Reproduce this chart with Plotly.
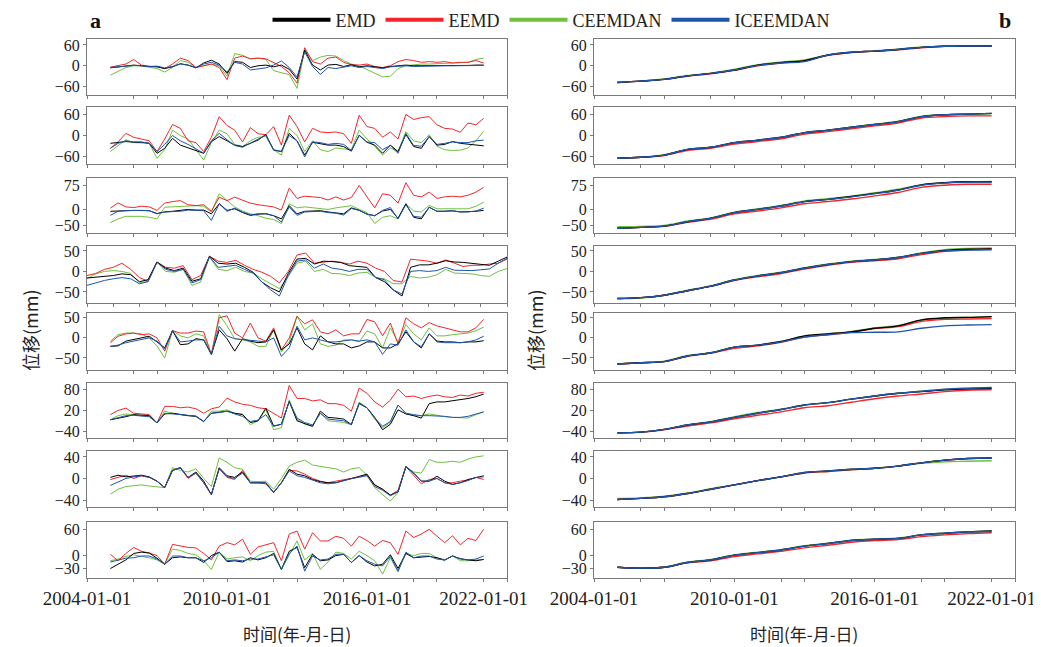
import plotly.graph_objects as go

# ---------------- data ----------------
METHODS = ["EMD", "EEMD", "CEEMDAN", "ICEEMDAN"]

DATES = [
    "2005-01-01", "2005-05-01", "2005-09-01", "2006-01-01", "2006-05-01", "2006-09-01",
    "2007-01-01", "2007-05-01", "2007-09-01", "2008-01-01", "2008-05-01", "2008-09-01",
    "2009-01-01", "2009-05-01", "2009-09-01", "2010-01-01", "2010-05-01", "2010-09-01",
    "2011-01-01", "2011-05-01", "2011-09-01", "2012-01-01", "2012-05-01", "2012-09-01",
    "2013-01-01", "2013-05-01", "2013-09-01", "2014-01-01", "2014-05-01", "2014-09-01",
    "2015-01-01", "2015-05-01", "2015-09-01", "2016-01-01", "2016-05-01", "2016-09-01",
    "2017-01-01", "2017-05-01", "2017-09-01", "2018-01-01", "2018-05-01", "2018-09-01",
    "2019-01-01", "2019-05-01", "2019-09-01", "2020-01-01", "2020-05-01", "2020-09-01",
    "2021-01-01",
]

YEARS = ["2005-01-01", "2006-01-01", "2007-01-01", "2008-01-01", "2009-01-01", "2010-01-01",
         "2011-01-01", "2012-01-01", "2013-01-01", "2014-01-01", "2015-01-01", "2016-01-01",
         "2017-01-01", "2018-01-01", "2019-01-01", "2020-01-01", "2021-01-01"]

# ---- column a (decomposed residual series), 8 stations ----
A1_EMD = [-6,-3,0,2,0,-2,-3,-8,-3,6,2,-6,8,16,5,-22,12,10,-5,0,2,-3,2,-10,-38,45,2,-12,2,4,-2,3,-3,0,-2,-6,-2,0,2,0,0,-1,0,0,0,0,1,2,2]
A1_EEMD = [-4,0,5,18,2,-3,-2,-8,5,22,15,-5,0,5,-5,-40,22,28,20,22,20,10,-2,-20,-50,52,12,5,22,25,10,3,2,5,-2,-5,0,12,18,15,10,12,10,12,8,10,10,15,8]
A1_CEEMDAN = [-27,-15,-5,0,0,-4,-8,-18,-5,15,10,-5,0,5,0,-30,35,30,20,22,18,-14,-20,-25,-65,45,15,25,30,28,15,5,0,-10,-22,-32,-30,-8,0,3,5,5,6,6,8,8,10,18,22]
A1_ICEEMDAN = [-5,-3,-1,1,0,-2,-1,-6,-2,5,2,-5,5,10,2,-18,10,5,-12,-8,-6,2,14,-5,-32,40,-2,-25,-5,-8,-3,0,-5,-2,-5,-8,-3,-2,0,-2,-1,-1,-1,0,0,0,0,1,1]

A2_EMD = [-22,-19,-17,-19,-19,-22,-50,-36,-8,-27,-34,-41,-50,-17,-3,-15,-27,-31,-22,-13,3,-41,-45,6,-15,-55,-19,-22,-27,-27,-31,-44,1,-19,-27,-50,-27,-45,3,-31,-36,-3,-27,-25,-17,-22,-25,-27,-29]
A2_EEMD = [-36,-18,6,-5,-10,-15,-45,-10,31,20,-15,-20,-45,-5,53,28,15,-18,22,5,2,25,-27,57,25,-18,20,10,8,10,5,-22,57,25,20,-5,10,-10,59,45,50,53,30,20,18,9,35,30,48]
A2_CEEMDAN = [-45,-28,-12,-20,-20,-22,-64,-40,15,0,-10,-40,-69,-20,15,5,-25,-31,-15,-5,-3,-40,-55,20,0,-45,-15,-40,-45,-35,-38,-40,15,-10,-30,-55,-35,-45,11,-15,-20,2,-30,-40,-42,-41,-35,-15,12]
A2_ICEEMDAN = [-36,-22,-15,-18,-18,-22,-45,-25,0,-15,-25,-38,-50,-15,6,-12,-28,-33,-22,-12,1,-40,-45,0,-15,-60,-18,-20,-25,-22,-25,-42,0,-18,-20,-40,-28,-50,6,-28,-30,-3,-25,-22,-18,-20,-20,-15,-13]

A3_EMD = [-6,-6,-4,-3,-3,-4,-13,-8,-6,-4,0,-2,-2,-14,18,-3,2,-10,-19,-15,-14,-20,-30,12,-14,-6,-6,-4,-8,-10,-14,5,-3,-15,-20,-5,0,-28,18,-25,-30,7,-6,-6,-4,-8,-8,-6,-3]
A3_EEMD = [4,21,8,6,10,8,-3,20,25,28,15,12,15,-6,39,28,39,30,20,15,12,8,-2,68,35,42,40,38,30,40,30,38,76,42,5,50,45,20,85,45,40,55,35,40,42,40,45,55,70]
A3_CEEMDAN = [-42,-30,-22,-22,-22,-25,-30,7,8,10,12,12,10,-8,50,28,8,-5,-14,-20,-28,-32,-45,18,5,8,5,2,0,5,8,12,0,-10,-45,-25,-20,-30,18,-5,-8,13,2,2,0,0,2,10,23]
A3_ICEEMDAN = [-19,-6,-4,-3,-3,-4,-14,-8,-8,-6,-2,-4,-4,-35,18,-6,4,-8,-17,-14,-13,-20,-40,8,-19,-8,-8,-6,-10,-12,-18,3,-3,-15,-20,-3,6,-30,15,-22,-25,7,-6,-6,-5,-8,-8,-5,4]

A4_EMD = [-16,-14,-12,-10,-6,-8,-25,-20,23,8,2,8,-24,-18,37,20,18,20,10,-2,-26,-40,-50,-5,30,32,18,25,24,22,14,12,10,-15,-25,-45,-60,10,16,16,20,26,23,22,20,18,15,25,35]
A4_EEMD = [-10,-5,5,10,20,5,-15,-24,23,10,8,14,-20,-10,37,25,22,27,15,5,-2,-12,-28,0,40,45,20,22,25,22,18,25,20,8,0,-22,-26,30,27,25,20,28,20,12,15,15,18,20,30]
A4_CEEMDAN = [-18,-6,0,2,0,-5,-28,-24,23,0,-2,5,-34,-26,35,5,2,10,0,-4,-18,-30,-42,-12,20,25,0,5,-5,-6,-10,-4,-2,-15,-18,-30,-30,-12,-16,-14,-8,5,-4,-5,-6,-10,-12,0,7]
A4_ICEEMDAN = [-34,-28,-22,-18,-15,-18,-30,-25,22,5,0,5,-28,-20,36,10,12,15,5,-4,-26,-45,-60,-10,25,28,8,18,8,5,0,5,5,-15,-20,-45,-55,0,2,0,2,10,3,3,2,4,6,20,32]

A5_EMD = [-21,-20,-8,-4,0,4,-10,-25,18,-17,-15,-2,-5,-41,20,-2,-33,-2,-8,-12,-10,20,-30,-15,25,-15,-30,5,-10,-15,-15,-25,-20,-10,-10,-25,-25,-15,15,-10,-25,10,-8,-10,-10,-12,-10,-10,-7]
A5_EEMD = [-12,4,10,12,8,10,0,-33,18,12,12,17,15,-41,50,55,12,0,37,0,-8,25,-30,0,54,35,45,15,10,20,5,10,10,46,40,5,37,-15,50,35,25,38,30,25,20,15,15,25,46]
A5_CEEMDAN = [-8,8,12,12,10,0,-20,-50,18,5,0,10,5,-41,58,30,-2,-5,-10,-21,-21,20,-35,-10,54,20,35,-15,-21,-18,-5,-5,-10,17,10,-25,25,-10,33,10,-5,25,5,5,8,10,12,18,27]
A5_ICEEMDAN = [-21,-18,-12,-8,-5,0,-8,-28,18,-10,-8,-5,-5,-41,29,5,-2,-4,-5,-8,-10,0,-46,-25,29,-5,0,-5,-10,-10,-8,-5,-8,-5,-10,-41,-15,-18,20,-10,-22,10,-10,-12,-12,-12,-10,-5,4]

A6_EMD = [-7,-3,2,8,6,5,-16,10,12,8,5,3,-12,12,15,18,12,8,-15,-10,27,-25,-20,46,-10,-18,-26,18,0,-2,-5,-21,40,28,0,-36,-20,22,10,5,-2,40,45,45,48,52,55,60,68]
A6_EEMD = [8,20,27,12,10,8,-16,32,32,28,30,25,12,25,30,56,45,38,35,28,25,12,-2,93,55,55,48,51,40,40,35,18,85,70,45,30,50,82,60,62,55,61,65,60,58,65,62,70,73]
A6_CEEMDAN = [-7,5,10,8,5,2,-16,18,12,8,5,3,-12,18,18,22,12,10,-21,-10,22,-36,-30,51,-5,-20,-26,12,-10,-12,-15,-21,44,28,-5,-30,-15,36,12,5,5,10,5,2,0,-2,-2,8,16]
A6_ICEEMDAN = [-7,0,5,6,5,2,-16,12,10,8,6,4,-12,12,14,18,10,3,-12,-8,8,-26,-20,46,-2,-15,-22,12,-5,-8,-10,-21,42,28,-2,-26,-12,36,12,8,5,5,5,3,0,0,3,10,16]

A7_EMD = [2,6,3,4,6,3,-5,-17,15,20,2,12,-5,-30,20,5,2,12,-8,-8,-8,-26,-8,17,8,5,-2,-6,-8,-8,-4,0,5,8,-12,-20,-31,-25,22,10,-5,-5,4,-5,-11,-8,-2,2,5]
A7_EEMD = [-2,2,6,0,5,2,-5,-17,15,20,0,10,-8,-30,18,2,-2,15,-8,-8,-10,-26,-8,15,14,8,0,-5,-8,-5,-2,0,2,6,-12,-20,-31,-22,22,6,-10,-2,0,-8,-8,-5,-3,2,-2]
A7_CEEMDAN = [-29,-20,-15,-13,-12,-14,-15,-17,20,15,12,18,0,-15,38,30,20,17,-5,-6,-5,-20,0,23,30,34,25,22,20,18,12,18,20,6,-17,-30,-42,-26,22,12,10,35,30,30,32,30,36,40,42]
A7_ICEEMDAN = [-13,-6,0,3,5,2,-5,-17,15,20,2,10,-8,-30,18,3,0,10,-8,-8,-8,-26,-8,14,5,2,-3,-8,-10,-8,-4,0,3,5,-15,-22,-32,-25,22,10,-5,-5,0,-8,-11,-8,-4,2,3]

A8_EMD = [-30,-20,-10,5,8,6,-6,-20,-5,-3,-5,-5,-16,0,8,-14,-12,-15,-5,-10,-5,5,-32,10,19,-28,3,-12,-10,0,3,-16,0,-15,-24,-20,2,-30,5,-5,-3,-2,-5,-10,-1,-7,-10,-12,-9]
A8_EEMD = [3,-12,5,19,10,6,0,-20,26,22,19,18,5,-10,22,30,25,38,3,20,25,30,-12,50,57,15,53,34,34,45,40,22,45,35,22,35,30,3,57,42,50,61,45,30,46,25,40,35,61]
A8_CEEMDAN = [-12,-8,-2,2,-2,-5,-10,-20,15,12,5,2,-12,-32,8,-8,-5,-3,-12,0,8,10,-32,0,34,-10,5,-32,-15,8,5,-8,10,0,-12,-43,-5,-38,5,0,5,5,-5,-12,0,-12,-12,-10,-9]
A8_ICEEMDAN = [-15,-10,-6,-5,-1,-1,-8,-20,-1,-1,-5,-5,-12,-5,8,-12,-10,-12,-8,-8,-3,2,-32,5,22,-36,-1,-10,-8,3,3,-16,0,-12,-20,-24,-2,-36,8,-5,-1,-1,-8,-10,-1,-8,-10,-8,-1]

# ---- column b (trend series), 8 stations ----
B1_EMD = [-48,-44,-39,-29,-22,-12,2,9,15,31,39,42,47,53,56,57,57]
B1_EEMD = [-48,-44,-39,-30,-23,-13,0,8,14,30,38,42,46,52,56,57,57]
B1_CEEMDAN = [-47,-44,-38,-28,-21,-10,3,11,17,30,38,43,48,54,56,57,56]
B1_ICEEMDAN = [-48,-44,-39,-29,-22,-12,1,8,12,31,39,42,47,53,56,57,57]

B2_EMD = [-64,-61,-55,-39,-33,-20,-13,-5,8,15,23,31,39,53,58,60,62]
B2_EEMD = [-64,-61,-56,-42,-36,-24,-17,-9,4,11,19,27,35,49,53,55,55]
B2_CEEMDAN = [-64,-61,-54,-40,-33,-21,-14,-6,7,14,23,32,40,54,58,60,61]
B2_ICEEMDAN = [-64,-61,-55,-39,-33,-20,-13,-5,8,15,23,31,39,53,58,60,62]

B3_EMD = [-60,-57,-53,-39,-28,-10,0,11,25,32,41,51,62,78,85,88,88]
B3_EEMD = [-60,-57,-54,-41,-31,-14,-5,5,18,25,33,43,54,70,77,80,80]
B3_CEEMDAN = [-55,-54,-51,-37,-27,-9,2,13,27,34,42,53,64,79,85,88,89]
B3_ICEEMDAN = [-60,-57,-53,-39,-28,-10,0,11,25,32,40,50,61,77,84,87,87]

B4_EMD = [-66,-64,-58,-47,-36,-21,-11,-3,8,17,24,28,34,44,51,54,55]
B4_EEMD = [-66,-64,-58,-47,-36,-22,-13,-5,6,15,22,26,31,41,49,53,55]
B4_CEEMDAN = [-67,-65,-58,-46,-35,-20,-10,-2,9,18,25,29,35,45,53,56,57]
B4_ICEEMDAN = [-66,-64,-58,-47,-36,-21,-11,-3,8,17,24,28,34,44,50,52,53]

B5_EMD = [-65,-62,-59,-45,-37,-23,-18,-9,5,10,15,24,30,45,50,51,53]
B5_EEMD = [-65,-62,-59,-46,-38,-26,-20,-11,2,8,14,23,28,41,46,47,48]
B5_CEEMDAN = [-65,-62,-58,-44,-37,-23,-18,-9,4,10,16,25,31,44,49,51,52]
B5_ICEEMDAN = [-65,-62,-59,-45,-37,-23,-18,-10,2,8,13,14,15,24,30,32,33]

B6_EMD = [-45,-43,-35,-22,-13,0,12,23,36,43,53,62,70,75,80,83,84]
B6_EEMD = [-45,-43,-36,-25,-16,-4,6,16,28,34,44,54,62,68,75,79,80]
B6_CEEMDAN = [-45,-43,-35,-22,-12,2,14,24,36,43,53,62,70,76,81,84,85]
B6_ICEEMDAN = [-45,-43,-35,-22,-13,0,12,23,36,43,53,62,70,76,82,85,87]

B7_EMD = [-39,-37,-34,-28,-20,-12,-4,3,11,14,17,19,23,29,34,37,38]
B7_EEMD = [-39,-37,-34,-28,-20,-12,-4,3,10,13,16,19,23,29,34,37,38]
B7_CEEMDAN = [-37,-36,-33,-27,-19,-12,-4,3,10,13,16,19,23,28,31,32,33]
B7_ICEEMDAN = [-39,-37,-34,-28,-20,-12,-4,3,11,14,17,19,23,29,34,37,38]

B8_EMD = [-27,-29,-27,-16,-10,1,7,13,22,28,35,38,40,48,52,55,57]
B8_EEMD = [-27,-29,-27,-17,-12,-2,4,10,18,24,31,35,37,44,48,51,53]
B8_CEEMDAN = [-27,-29,-27,-15,-9,2,8,14,23,29,36,38,41,48,52,55,57]
B8_ICEEMDAN = [-27,-29,-27,-16,-10,1,7,13,22,28,35,38,40,48,52,55,56]

PANELS_A = [
    (A1_EMD, A1_EEMD, A1_CEEMDAN, A1_ICEEMDAN),
    (A2_EMD, A2_EEMD, A2_CEEMDAN, A2_ICEEMDAN),
    (A3_EMD, A3_EEMD, A3_CEEMDAN, A3_ICEEMDAN),
    (A4_EMD, A4_EEMD, A4_CEEMDAN, A4_ICEEMDAN),
    (A5_EMD, A5_EEMD, A5_CEEMDAN, A5_ICEEMDAN),
    (A6_EMD, A6_EEMD, A6_CEEMDAN, A6_ICEEMDAN),
    (A7_EMD, A7_EEMD, A7_CEEMDAN, A7_ICEEMDAN),
    (A8_EMD, A8_EEMD, A8_CEEMDAN, A8_ICEEMDAN),
]
PANELS_B = [
    (B1_EMD, B1_EEMD, B1_CEEMDAN, B1_ICEEMDAN),
    (B2_EMD, B2_EEMD, B2_CEEMDAN, B2_ICEEMDAN),
    (B3_EMD, B3_EEMD, B3_CEEMDAN, B3_ICEEMDAN),
    (B4_EMD, B4_EEMD, B4_CEEMDAN, B4_ICEEMDAN),
    (B5_EMD, B5_EEMD, B5_CEEMDAN, B5_ICEEMDAN),
    (B6_EMD, B6_EEMD, B6_CEEMDAN, B6_ICEEMDAN),
    (B7_EMD, B7_EEMD, B7_CEEMDAN, B7_ICEEMDAN),
    (B8_EMD, B8_EEMD, B8_CEEMDAN, B8_ICEEMDAN),
]

Y_RANGES = [[-84, 77], [-80, 80], [-75, 100], [-77, 62], [-80, 62], [-60, 100], [-53, 51], [-52, 78]]
Y_TICKS = [[-60, 0, 60], [-60, 0, 60], [-50, 0, 75], [-50, 0, 50], [-50, 0, 50], [-40, 20, 80], [-40, 0, 40], [-30, 0, 60]]

X_TICKVALS = ["2004-01-01", "2006-01-01", "2007-01-01", "2009-01-01", "2010-01-01", "2012-01-01",
              "2013-01-01", "2015-01-01", "2016-01-01", "2018-01-01", "2019-01-01", "2021-01-01",
              "2022-01-01"]
X_TICKTEXT = ["2004-01-01", "", "", "", "2010-01-01", "", "", "", "2016-01-01", "", "", "2022-01-01", ""]

# ---------------- style ----------------
COLORS = {"EMD": "#000000", "EEMD": "#f2262b", "CEEMDAN": "#6fc13f", "ICEEMDAN": "#1f55ac"}
DRAW_ORDER = [2, 1, 0, 3]
SERIF = "Liberation Serif, Times New Roman, serif"
CJK = "Noto Sans CJK SC, sans-serif"
WIN_W, WIN_H = 1041, 647
OFF = 8                      # default page margin in front of the figure
W, H = WIN_W - OFF, WIN_H - OFF
ROW_TOP = [39, 107, 178, 246, 313, 383, 451, 522]
ROW_BOT = [95, 164, 233, 303, 370, 438, 507, 578]
COL_X = [(87, 507), (594, 1015)]
FRAME = "#7a7a7a"


def px(p):
    return (p - OFF) / W


def py(p):
    return 1 - (p - OFF) / H


fig = go.Figure()
layout = dict(
    template="none",
    width=W, height=H, margin=dict(l=0, r=0, t=0, b=0, pad=0, autoexpand=False),
    paper_bgcolor="white", plot_bgcolor="white",
    font=dict(family=SERIF, size=17, color="#222"),
    showlegend=True,
)

for r in range(8):
    for c in range(2):
        idx = 2 * r + c + 1
        xname = "x" if idx == 1 else f"x{idx}"
        yname = "y" if idx == 1 else f"y{idx}"
        series = PANELS_A[r] if c == 0 else PANELS_B[r]
        xs = DATES if c == 0 else YEARS
        for m in DRAW_ORDER:
            name = METHODS[m]
            fig.add_trace(go.Scatter(
                x=xs, y=series[m], mode="lines", name=name,
                line=dict(color=COLORS[name], width=1.0 if c == 0 else 1.4,
                          shape="linear" if c == 0 else "spline"),
                xaxis=xname, yaxis=yname, showlegend=False,
                legendgroup=name,
            ))
        x0, x1 = COL_X[c]
        xa = dict(
            domain=[px(x0), px(x1)], anchor=yname, type="date", automargin=False,
            showline=True, mirror=True, linecolor=FRAME, linewidth=1,
            ticks="outside", ticklen=3, tickcolor=FRAME,
            showgrid=False, zeroline=False,
            tickfont=dict(family=SERIF, size=19, color="#222"),
        )
        if c == 0 and r == 3:
            xa.update(range=["2005-01-01", "2021-01-01"], tickmode="linear",
                      tick0="2005-01-01", dtick="M12", showticklabels=False)
        else:
            xa.update(range=["2004-01-01", "2022-01-01"], tickmode="array",
                      tickvals=X_TICKVALS, ticktext=X_TICKTEXT,
                      showticklabels=(r == 7))
        ya = dict(
            domain=[py(ROW_BOT[r]), py(ROW_TOP[r])], anchor=xname, automargin=False,
            range=Y_RANGES[r], tickmode="array", tickvals=Y_TICKS[r],
            showline=True, mirror=True, linecolor=FRAME, linewidth=1,
            ticks="outside", ticklen=3, tickcolor=FRAME,
            showgrid=False, zeroline=False,
            tickfont=dict(family=SERIF, size=16, color="#222"),
        )
        layout["xaxis" if idx == 1 else f"xaxis{idx}"] = xa
        layout["yaxis" if idx == 1 else f"yaxis{idx}"] = ya

# legend entries (thick lines, as in the reference legend)
for name in METHODS:
    fig.add_trace(go.Scatter(x=[None], y=[None], mode="lines", name=name,
                             line=dict(color=COLORS[name], width=4),
                             xaxis="x", yaxis="y", showlegend=True, legendgroup=name))

layout["legend"] = dict(
    orientation="h", x=px(551), xanchor="center", y=py(20), yanchor="middle",
    font=dict(family=SERIF, size=18, color="#222"), bgcolor="rgba(0,0,0,0)",
    itemwidth=58, tracegroupgap=0,
)

ann_common = dict(xref="paper", yref="paper", showarrow=False, xanchor="center", yanchor="middle")
annotations = [
    dict(text="<b>a</b>", x=px(95), y=py(21), font=dict(family=SERIF, size=22, color="#111"), **ann_common),
    dict(text="<b>b</b>", x=px(1005), y=py(21), font=dict(family=SERIF, size=22, color="#111"), **ann_common),
    dict(text="位移(mm)", x=px(30), y=py(330), textangle=-90,
         font=dict(family=CJK, size=18, color="#222"), **ann_common),
    dict(text="位移(mm)", x=px(535), y=py(330), textangle=-90,
         font=dict(family=CJK, size=18, color="#222"), **ann_common),
    dict(text="时间(年-月-日)", x=px(297), y=py(633),
         font=dict(family=CJK, size=17, color="#222"), **ann_common),
    dict(text="时间(年-月-日)", x=px(804), y=py(633),
         font=dict(family=CJK, size=17, color="#222"), **ann_common),
]
layout["annotations"] = annotations

fig.update_layout(**layout)
fig.write_html("out.html")
